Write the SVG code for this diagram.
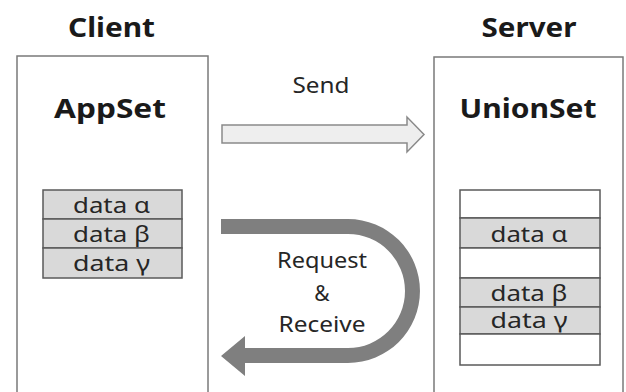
<svg xmlns="http://www.w3.org/2000/svg" width="626" height="392" viewBox="0 0 626 392">
<style>
  .frame { fill: #ffffff; stroke: #7a7a7a; stroke-width: 1.5; }
  .title { font-family: "Noto Sans", "Open Sans", "Liberation Sans", sans-serif; font-weight: bold; font-size: 27px; fill: #1a1a1a; text-anchor: middle; }
  .label { font-family: "Noto Sans", "Open Sans", "Liberation Sans", sans-serif; font-size: 21px; fill: #262626; text-anchor: middle; }
  .cell { fill: #d9d9d9; stroke: #5a5a5a; stroke-width: 1.5; }
  .empty { fill: #ffffff; stroke: #5a5a5a; stroke-width: 1.5; }
  .data { font-family: "Noto Sans", "Open Sans", "Liberation Sans", sans-serif; font-size: 21px; fill: #262626; text-anchor: middle; }
</style>
<rect x="0" y="0" width="626" height="392" fill="#ffffff"/>

<g id="client">
  <text class="title" x="111.5" y="37" textLength="87" lengthAdjust="spacingAndGlyphs">Client</text>
  <rect class="frame" x="17" y="56" width="191" height="345"/>
  <text class="title" x="110" y="118" textLength="112" lengthAdjust="spacingAndGlyphs">AppSet</text>
  <g id="appset-table">
    <rect class="cell" x="43" y="190" width="139" height="29"/>
    <rect class="cell" x="43" y="219" width="139" height="29"/>
    <rect class="cell" x="43" y="248" width="139" height="30"/>
    <text class="data" x="111.5" y="213" textLength="77" lengthAdjust="spacingAndGlyphs">data α</text>
    <text class="data" x="111.5" y="242" textLength="77" lengthAdjust="spacingAndGlyphs">data β</text>
    <text class="data" x="111.5" y="271" textLength="77" lengthAdjust="spacingAndGlyphs">data γ</text>
  </g>
</g>

<g id="server">
  <text class="title" x="529" y="37" textLength="95" lengthAdjust="spacingAndGlyphs">Server</text>
  <rect class="frame" x="434" y="57" width="189" height="345"/>
  <text class="title" x="528" y="118" textLength="137" lengthAdjust="spacingAndGlyphs">UnionSet</text>
  <g id="unionset-table">
    <rect class="empty" x="460" y="190" width="140" height="28"/>
    <rect class="cell" x="460" y="218" width="140" height="30"/>
    <rect class="empty" x="460" y="248" width="140" height="30"/>
    <rect class="cell" x="460" y="278" width="140" height="29"/>
    <rect class="cell" x="460" y="307" width="140" height="27"/>
    <rect class="empty" x="460" y="334" width="140" height="31"/>
    <text class="data" x="529" y="242" textLength="77" lengthAdjust="spacingAndGlyphs">data α</text>
    <text class="data" x="529" y="301" textLength="77" lengthAdjust="spacingAndGlyphs">data β</text>
    <text class="data" x="529" y="328" textLength="77" lengthAdjust="spacingAndGlyphs">data γ</text>
  </g>
</g>

<g id="connectors">
  <g id="send">
    <path d="M222,125 H407 V117 L424,134.5 L407,152 V143 H222 Z" fill="#eeeeee" stroke="#8a8a8a" stroke-width="1.5" stroke-linejoin="miter"/>
    <text class="label" x="321" y="93" textLength="57" lengthAdjust="spacingAndGlyphs">Send</text>
  </g>
  <g id="request-receive">
    <path d="M221,219 H348 A72,72 0 0 1 348,363 H245 V376 L221,356 L245,336 V348 H348 A57,57 0 0 0 348,234 H221 Z" fill="#7f7f7f"/>
    <text class="label" x="322" y="268" textLength="90" lengthAdjust="spacingAndGlyphs">Request</text>
    <text class="label" x="322" y="301">&amp;</text>
    <text class="label" x="322" y="332" textLength="87" lengthAdjust="spacingAndGlyphs">Receive</text>
  </g>
</g>
</svg>
